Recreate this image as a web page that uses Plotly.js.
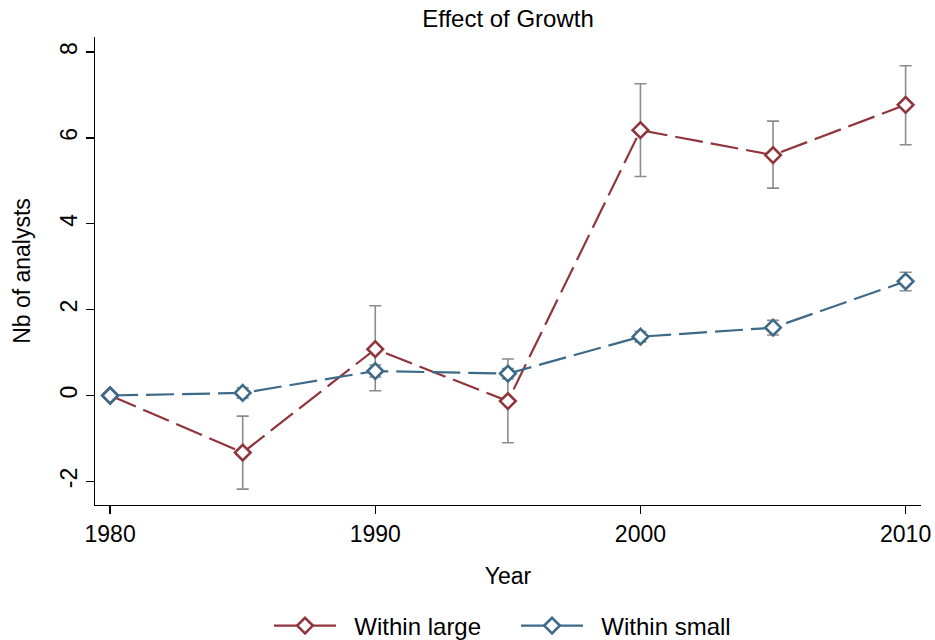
<!DOCTYPE html>
<html>
<head>
<meta charset="utf-8">
<script src="https://cdn.plot.ly/plotly-3.0.1.min.js"></script>
<style>
  html, body { margin: 0; padding: 0; background: #fff; }
  #chart { width: 935px; height: 640px; }
</style>
</head>
<body>
<div id="chart"></div>
<script>
// Survey years
const years = [1980, 1985, 1990, 1995, 2000, 2005, 2010];

// Estimated effect on number of analysts, with 95% confidence bounds
const largeEffect = [0, -1.33, 1.08, -0.13, 6.18, 5.60, 6.77];
const largeLower  = [0, -2.18, 0.11, -1.10, 5.10, 4.83, 5.84];
const largeUpper  = [0, -0.48, 2.09, 0.85, 7.26, 6.39, 7.68];

const smallEffect = [0, 0.06, 0.57, 0.51, 1.37, 1.58, 2.66];
const smallLower  = [0, -0.06, 0.43, 0.39, 1.25, 1.41, 2.44];
const smallUpper  = [0, 0.18, 0.71, 0.63, 1.49, 1.75, 2.87];

const seriesNames = ['Within large', 'Within small'];
const tickYears = [1980, 1990, 2000, 2010];
const tickValues = [-2, 0, 2, 4, 6, 8];

const red = '#90353b';
const blue = '#3e6a89';
const ciGrey = '#8c8c8c';
const FONT = 'Liberation Sans, Arial, Helvetica, sans-serif';

function ciTrace(values, lower, upper, color) {
  return {
    x: years,
    y: values,
    type: 'scatter',
    mode: 'lines+markers',
    showlegend: false,
    hoverinfo: 'x+y',
    line: { color: color, width: 2.2, dash: '28px,8px' },
    marker: { symbol: 'diamond', size: 12, color: '#ffffff',
              line: { color: color, width: 2.6 } },
    error_y: {
      type: 'data', symmetric: false,
      array: upper.map((u, i) => u - values[i]),
      arrayminus: values.map((v, i) => v - lower[i]),
      color: ciGrey, thickness: 1.6, width: 6
    }
  };
}

// Legend entries with solid line keys
function legendKey(name, color) {
  return {
    x: [null], y: [null], type: 'scatter', mode: 'lines+markers',
    name: '\u00a0\u00a0' + name,
    line: { color: color, width: 2.2 },
    marker: { symbol: 'diamond', size: 12, color: '#ffffff',
              line: { color: color, width: 2.6 } }
  };
}

const data = [
  ciTrace(largeEffect, largeLower, largeUpper, red),
  ciTrace(smallEffect, smallLower, smallUpper, blue),
  legendKey(seriesNames[0], red),
  legendKey(seriesNames[1], blue)
];

const layout = {
  width: 935, height: 640,
  margin: { l: 95, r: 14, t: 37, b: 135 },
  paper_bgcolor: '#ffffff', plot_bgcolor: '#ffffff',
  font: { family: FONT, size: 22, color: '#000000' },
  title: { text: 'Effect of Growth', x: 0.5, xref: 'paper',
           y: 1 - 18.5 / 640, yref: 'container', yanchor: 'middle',
           font: { family: FONT, size: 24, color: '#000' } },
  xaxis: {
    range: [1979.43, 2010.58],
    automargin: false,
    tickvals: tickYears, ticktext: tickYears.map(String),
    ticks: 'outside', ticklen: 8, tickwidth: 1.3, tickcolor: '#000',
    showline: true, linecolor: '#000', linewidth: 1.3,
    showgrid: false, zeroline: false,
    tickfont: { family: FONT, size: 23 },
    title: { text: 'Year', standoff: 22, font: { family: FONT, size: 23 } }
  },
  yaxis: {
    range: [-2.55, 8.35],
    automargin: false,
    tickvals: tickValues, ticktext: tickValues.map(String),
    tickangle: -90,
    ticks: 'outside', ticklen: 8, tickwidth: 1.3, tickcolor: '#000',
    showline: true, linecolor: '#000', linewidth: 1.3,
    showgrid: false, zeroline: false,
    tickfont: { family: FONT, size: 23 },
    title: { text: 'Nb of analysts', standoff: 18, font: { family: FONT, size: 23 } }
  },
  legend: {
    orientation: 'h', x: 0.5097, xanchor: 'center', xref: 'paper',
    y: 1 - 626 / 640, yanchor: 'middle', yref: 'container',
    itemwidth: 62, entrywidth: 170, entrywidthmode: 'pixels',
    font: { family: FONT, size: 24 },
    bgcolor: 'rgba(0,0,0,0)'
  }
};

Plotly.newPlot('chart', data, layout, { displayModeBar: false, staticPlot: true });
</script>
</body>
</html>
